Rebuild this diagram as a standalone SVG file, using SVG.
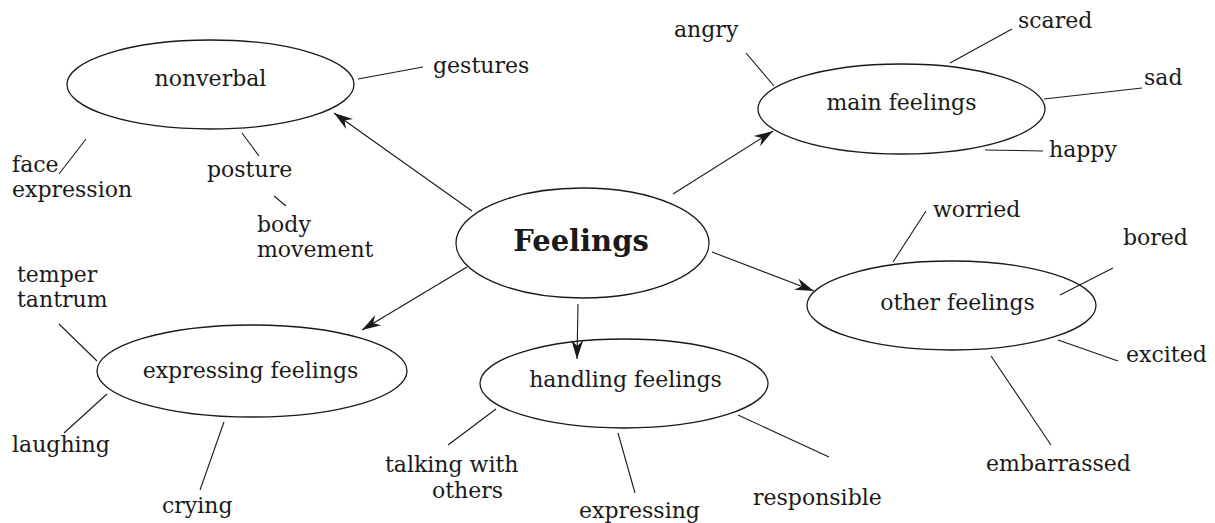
<svg xmlns="http://www.w3.org/2000/svg" width="1215" height="523" viewBox="0 0 1215 523">
<style>
text{font-family:"DejaVu Serif","Liberation Serif",serif;font-size:22px;fill:#1a1a1a}
.c{text-anchor:middle}
.b{font-weight:bold;font-size:29px}
ellipse{fill:none;stroke:#1a1a1a;stroke-width:1.3}
line{stroke:#1a1a1a;stroke-width:1.1}
.a{marker-end:url(#ah)}
</style>
<defs>
<marker id="ah" viewBox="-20 -8 21 16" refX="0" refY="0" markerWidth="21" markerHeight="16" markerUnits="userSpaceOnUse" orient="auto">
<path d="M0,0 L-19,-6 L-13,0 L-19,6 Z" fill="#1a1a1a"/>
</marker>
</defs>
<g id="connectors">
<line class="a" x1="472" y1="211" x2="334" y2="113"/>
<line class="a" x1="673" y1="194" x2="773" y2="131"/>
<line class="a" x1="712" y1="252" x2="814" y2="291"/>
<line class="a" x1="467" y1="267" x2="362" y2="330"/>
<line class="a" x1="578" y1="304" x2="577" y2="359"/>
<line x1="358" y1="79" x2="423" y2="67"/>
<line x1="59" y1="174" x2="86" y2="139"/>
<line x1="242" y1="133" x2="259" y2="156"/>
<line x1="274" y1="196" x2="286" y2="206"/>
<line x1="746" y1="53" x2="774" y2="86"/>
<line x1="950" y1="63" x2="1012" y2="29"/>
<line x1="1044" y1="99" x2="1142" y2="88"/>
<line x1="985" y1="150" x2="1043" y2="151"/>
<line x1="893" y1="262" x2="926" y2="211"/>
<line x1="1060" y1="295" x2="1113" y2="268"/>
<line x1="1058" y1="340" x2="1118" y2="361"/>
<line x1="991" y1="356" x2="1051" y2="445"/>
<line x1="738" y1="415" x2="829" y2="457"/>
<line x1="448" y1="445" x2="496" y2="409"/>
<line x1="618" y1="433" x2="635" y2="493"/>
<line x1="59" y1="324" x2="97" y2="361"/>
<line x1="64" y1="433" x2="107" y2="394"/>
<line x1="200" y1="490" x2="224" y2="422"/>
</g>
<g id="feelings"><ellipse cx="582.5" cy="243" rx="126.5" ry="55"/><text class="c b" x="581" y="251">Feelings</text></g>
<g id="nonverbal"><ellipse cx="210.5" cy="84.5" rx="143.5" ry="44.5"/><text class="c" x="210.5" y="86">nonverbal</text></g>
<g id="main-feelings"><ellipse cx="901.5" cy="109" rx="143.5" ry="45"/><text class="c" x="901.5" y="110">main feelings</text></g>
<g id="other-feelings"><ellipse cx="951.5" cy="305.5" rx="144.5" ry="44.5"/><text class="c" x="957.5" y="310">other feelings</text></g>
<g id="expressing-feelings"><ellipse cx="252" cy="371" rx="155" ry="46"/><text class="c" x="250.5" y="378">expressing feelings</text></g>
<g id="handling-feelings"><ellipse cx="624" cy="383.5" rx="144" ry="44.5"/><text class="c" x="625.5" y="387">handling feelings</text></g>
<g id="gestures"><text x="433" y="73">gestures</text></g>
<g id="face-expression"><text x="12" y="172">face</text><text x="12" y="197">expression</text></g>
<g id="posture"><text x="207" y="177">posture</text></g>
<g id="body-movement"><text x="257" y="232">body</text><text x="257" y="257">movement</text></g>
<g id="angry"><text x="674" y="37">angry</text></g>
<g id="scared"><text x="1018" y="28">scared</text></g>
<g id="sad"><text x="1144" y="85">sad</text></g>
<g id="happy"><text x="1049" y="157">happy</text></g>
<g id="worried"><text x="933" y="217">worried</text></g>
<g id="bored"><text x="1123" y="245">bored</text></g>
<g id="excited"><text x="1126" y="362">excited</text></g>
<g id="embarrassed"><text x="986" y="471">embarrassed</text></g>
<g id="responsible"><text x="753" y="505">responsible</text></g>
<g id="talking-with-others"><text x="385" y="472">talking with</text><text x="432" y="498">others</text></g>
<g id="expressing"><text x="579" y="518">expressing</text></g>
<g id="temper-tantrum"><text x="17" y="282">temper</text><text x="17" y="307">tantrum</text></g>
<g id="laughing"><text x="12" y="452">laughing</text></g>
<g id="crying"><text x="162" y="513">crying</text></g>
</svg>
